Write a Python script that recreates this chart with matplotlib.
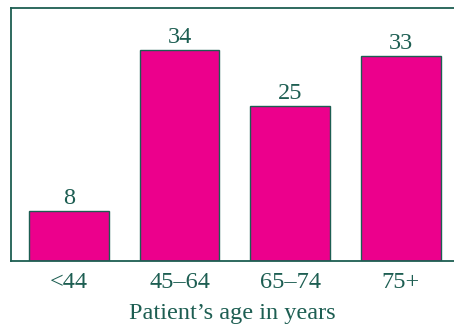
import matplotlib
matplotlib.use('Agg')
import matplotlib.pyplot as plt

# data
ages = ['<44', '45\u201364', '65\u201374', '75+']
counts = [8, 34, 25, 33]

BAR = '#ec008c'
INK = '#1d5e52'
FS = 17.5

plt.rcParams['font.family'] = ['Liberation Serif', 'DejaVu Serif']

fig = plt.figure(figsize=(4.54, 3.24), dpi=100)
ax = fig.add_axes([11/454, 1 - 261/324, 1 - 11/454, (261 - 8)/324])

pos = range(len(ages))
bars = ax.bar(pos, counts, width=0.72, color=BAR, edgecolor=INK, linewidth=1.0)
for b, v in zip(bars, counts):
    ax.text(b.get_x() + b.get_width()/2, v + 0.35, str(v), ha='center', va='bottom',
            fontsize=FS, color=INK)

ax.set_xlim(-0.524, 3.48)
ax.set_ylim(0, 40.8)
ax.set_xticks(list(pos))
ax.set_xticklabels(ages, fontsize=FS, color=INK)
ax.tick_params(axis='x', length=0, pad=8)
ax.set_yticks([])
ax.set_xlabel('Patient\u2019s age in years', fontsize=FS, color=INK, labelpad=7)

for s in ['left', 'top', 'bottom']:
    ax.spines[s].set_color(INK)
    ax.spines[s].set_linewidth(1.3)
ax.spines['right'].set_visible(False)

fig.savefig('out.png', dpi=100)
